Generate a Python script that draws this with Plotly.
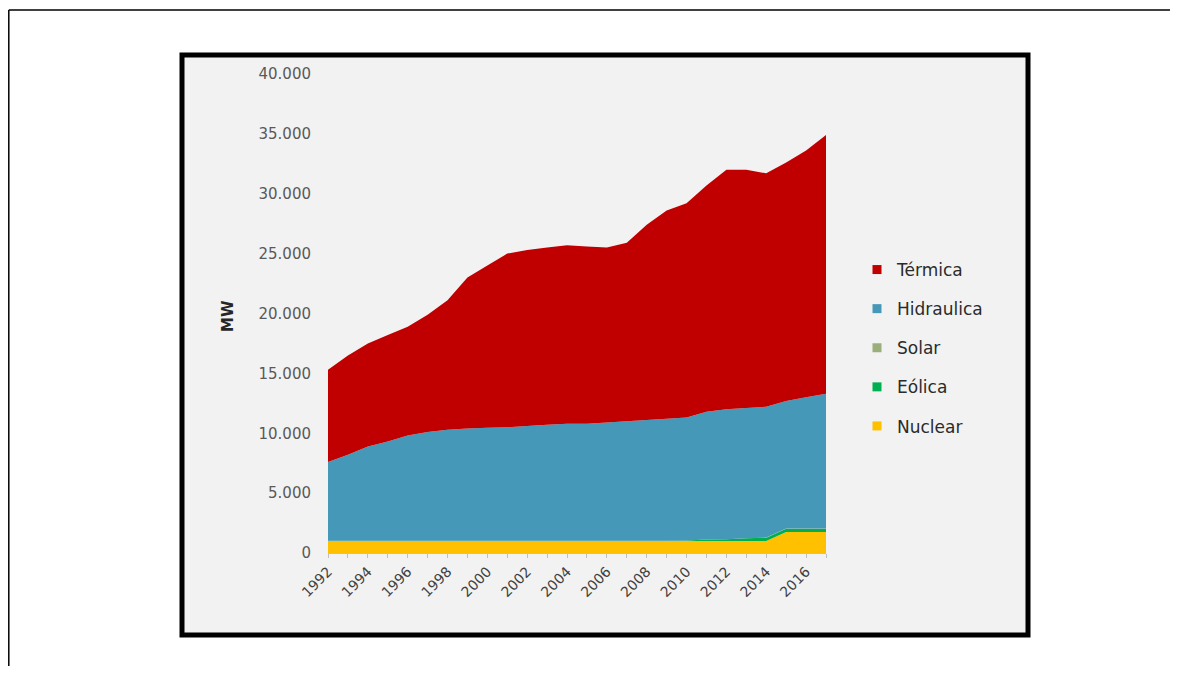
import plotly.graph_objects as go

years = list(range(1992, 2018))
nuclear = [1005] * 23 + [1755, 1755, 1755]
eolica = [27] * 18 + [30, 113, 141, 218, 271, 279, 279, 279]
solar = [0] * 19 + [1, 8, 8, 8, 8, 8, 8]
hidraulica = [6570, 7170, 7870, 8270, 8770, 9070, 9270, 9370, 9420, 9470, 9570, 9670, 9770,
              9770, 9870, 9970, 10070, 10170, 10270, 10680, 10850, 10870, 10920, 10660, 10960, 11260]
termica = [7700, 8300, 8600, 8900, 9100, 9800, 10800, 12600, 13550, 14500, 14700, 14800, 14900,
           14800, 14600, 14900, 16300, 17400, 17900, 18900, 20000, 19900, 19500, 19900, 20600, 21600]

series = [
    ("Nuclear", nuclear, "#FFC000"),
    ("Eólica", eolica, "#00B050"),
    ("Solar", solar, "#9BAF7C"),
    ("Hidraulica", hidraulica, "#4698B8"),
    ("Térmica", termica, "#C00000"),
]

fig = go.Figure()
for name, vals, color in series:
    fig.add_trace(go.Scatter(
        x=years, y=vals, name=name, stackgroup="one", mode="none",
        fillcolor=color, line=dict(width=0), showlegend=False,
    ))
# legend entries (square markers, Excel-like), Térmica first
for i, (name, vals, color) in enumerate(reversed(series)):
    fig.add_trace(go.Scatter(
        x=[None], y=[None], name=name, mode="markers",
        marker=dict(symbol="square", size=9, color=color),
        legendgroup=f"g{i}", showlegend=True,
    ))

# page offset (browser body margin)
OFF = 8
W, H = 1190 - 2 * OFF, 674 - 2 * OFF
L, R, T, B = 328 - OFF, 826 - OFF, 74 - OFF, 553 - OFF

def px(x):
    return (x - OFF - L) / (R - L)
def py(y):
    return (B - (y - OFF)) / (B - T)

shapes = [
    # chart frame
    dict(type="rect", xref="paper", yref="paper", x0=px(182), x1=px(1028), y0=py(635), y1=py(55),
         line=dict(color="black", width=5), fillcolor="#F2F2F2", layer="below"),
    # page border lines
    dict(type="line", xref="paper", yref="paper", x0=px(8.8), x1=px(1170), y0=py(10), y1=py(10),
         line=dict(color="black", width=1.5)),
    dict(type="line", xref="paper", yref="paper", x0=px(8.8), x1=px(8.8), y0=py(10), y1=py(673),
         line=dict(color="black", width=1.5)),
]

fig.update_layout(
    width=W, height=H,
    margin=dict(l=L, r=W - R, t=T, b=H - B, pad=0),
    paper_bgcolor="white",
    plot_bgcolor="rgba(0,0,0,0)",
    separators=",.",
    font=dict(family="DejaVu Sans", size=15, color="#595959"),
    shapes=shapes,
    showlegend=True,
    legend=dict(
        x=px(857), y=py(252), xanchor="left", yanchor="top",
        traceorder="grouped", tracegroupgap=14,
        font=dict(family="DejaVu Sans", size=17, color="#2b2b2b"),
        bgcolor="rgba(0,0,0,0)", itemwidth=30,
    ),
    annotations=[
        dict(text="<b>MW</b>", xref="paper", yref="paper", x=px(228), y=py(316),
             xanchor="center", yanchor="middle",
             textangle=-90, showarrow=False,
             font=dict(family="DejaVu Sans", size=15, color="#262626")),
    ],
    xaxis=dict(
        range=[1992, 2017], tick0=1992, dtick=2, tickangle=-45,
        showgrid=False, zeroline=False, showline=True, linecolor="#BFBFBF",
        ticks="outside", ticklen=4, tickcolor="#BFBFBF",
        minor=dict(dtick=1, ticks="outside", ticklen=4, tickcolor="#BFBFBF"),
        tickfont=dict(family="DejaVu Sans", size=14, color="#404040"),
    ),
    yaxis=dict(
        range=[0, 40000], dtick=5000, tickformat=",d",
        showgrid=False, zeroline=False, showline=False, ticks="",
        ticklabelstandoff=16, tickfont=dict(family="DejaVu Sans", size=15, color="#595959"),
    ),
)

fig.write_html("out.html")
